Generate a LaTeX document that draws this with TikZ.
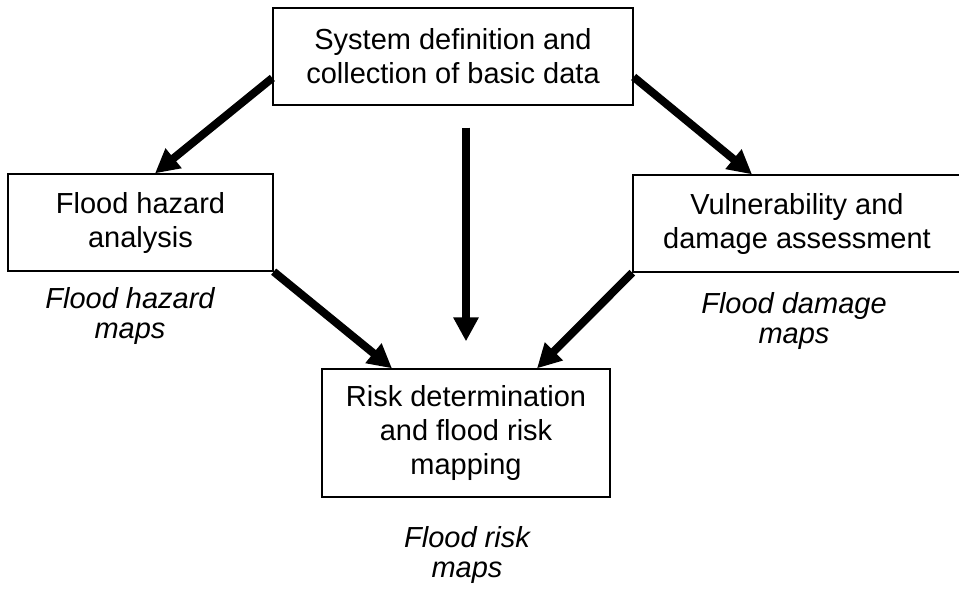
\documentclass[tikz,border=0pt]{standalone}
\usepackage{fontspec}
\setmainfont{Liberation Sans}
\usetikzlibrary{arrows.meta,calc}

\tikzset{
  stage/.style={draw=black, line width=1.3pt, align=center, inner sep=0pt,
    font=\fontsize{29}{34}\selectfont},
  product/.style={align=center, inner sep=0pt,
    font=\fontsize{29}{30}\selectfont\itshape},
  flow/.style={line width=8pt, -{Triangle[width=24pt,length=24pt]}}
}

\begin{document}
\begin{tikzpicture}[x=1pt, y=-1pt]
  \useasboundingbox (0,0) rectangle (959,590);

  % process stages
  \node[stage, minimum width=360pt, minimum height=97pt] (def) at (453,56.5)
    {System definition and\\collection of basic data};
  \node[stage, minimum width=265pt, minimum height=97pt] (haz) at (140.5,222.5)
    {Flood hazard\\analysis};
  \node[stage, minimum width=328pt, minimum height=97pt] (vul) at (797,223.5)
    {Vulnerability and\\damage assessment};
  \node[stage, minimum width=288pt, minimum height=128pt] (risk) at (466,433)
    {Risk determination\\and flood risk\\mapping};

  % products of each stage
  \node[product] (hazmap) at (130,316) {Flood hazard\\maps};
  \node[product] (dammap) at (794,321) {Flood damage\\maps};
  \node[product] (riskmap) at (467,555) {Flood risk\\maps};

  % free ends of the central arrow
  \coordinate (cstart) at ($(def.south -| risk.north)+(0,22)$);
  \coordinate (cend) at ($(risk.north)+(0,-27)$);

  % information flow
  \draw[flow] ([yshift=-21.5pt]def.west) -- ([xshift=14.5pt]haz.north);
  \draw[flow] ([yshift=-20.5pt]def.east) -- ([xshift=-45pt]vul.north);
  \draw[flow] (cstart) -- (cend);
  \draw[flow] (haz.south east) -- ([xshift=-74pt]risk.north);
  \draw[flow] (vul.south west) -- ([xshift=71pt]risk.north);
\end{tikzpicture}
\end{document}
